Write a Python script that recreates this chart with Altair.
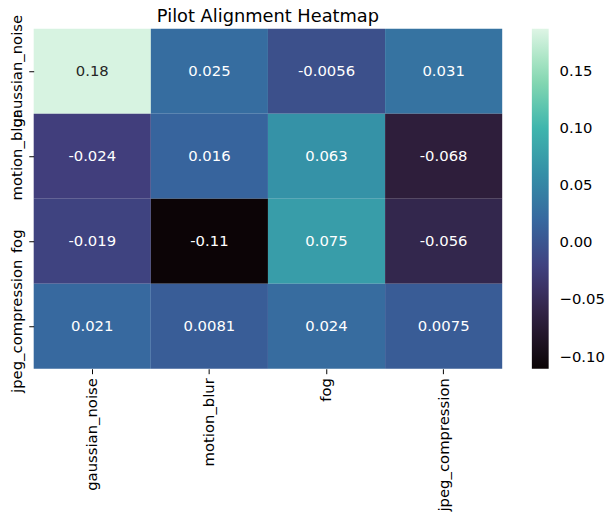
import altair as alt
import pandas as pd

categories = ["gaussian_noise", "motion_blur", "fog", "jpeg_compression"]
row_gaussian_noise = [0.184, 0.025, -0.0056, 0.031]
row_motion_blur = [-0.024, 0.016, 0.063, -0.068]
row_fog = [-0.019, -0.11, 0.075, -0.056]
row_jpeg_compression = [0.021, 0.0081, 0.024, 0.0075]
colorbar_range = [-0.1107, 0.1875]
colorbar_ticks = [-0.10, -0.05, 0.0, 0.05, 0.10, 0.15]
mako = ["#0B0405", "#2E1E3B", "#413D7B", "#37659E", "#348FA7", "#40B7AD", "#8BDAB2", "#DEF5E5"]

rows = [row_gaussian_noise, row_motion_blur, row_fog, row_jpeg_compression]
records = []
for rname, vals in zip(categories, rows):
    for cname, v in zip(categories, vals):
        records.append({"row": rname, "col": cname, "v": v, "label": f"{v:.2g}"})
df = pd.DataFrame(records)

FONT = "DejaVu Sans"

x = alt.X("col:N", sort=categories, title=None,
          scale=alt.Scale(paddingInner=0, paddingOuter=0),
          axis=alt.Axis(labelAngle=270, labelFontSize=15, labelFont=FONT, labelColor="black",
                        tickColor="black", tickSize=5, labelPadding=4, domain=False,
                        labelOverlap=False, labelLimit=0))
y = alt.Y("row:N", sort=categories, title=None,
          scale=alt.Scale(paddingInner=0, paddingOuter=0),
          axis=alt.Axis(labelAngle=270, labelAlign="center", labelBaseline="bottom",
                        labelFontSize=15, labelFont=FONT, labelColor="black",
                        tickColor="black", tickSize=5, labelPadding=4, domain=False,
                        labelOverlap=False, labelLimit=0))

rect = alt.Chart(df).mark_rect(strokeWidth=0).encode(
    x=x, y=y,
    color=alt.Color("v:Q",
                    scale=alt.Scale(domain=colorbar_range, range=mako, interpolate="rgb"),
                    legend=alt.Legend(orient="none", legendX=504, legendY=0, title=None,
                                      gradientLength=344, gradientThickness=17,
                                      direction="vertical", values=colorbar_ticks, format=".2f",
                                      labelFontSize=15, labelFont=FONT, labelColor="black",
                                      labelOffset=11, labelOverlap=False, gradientStrokeWidth=0,
                                      padding=0)),
)

text = alt.Chart(df).mark_text(fontSize=15, font=FONT).encode(
    x=alt.X("col:N", sort=categories),
    y=alt.Y("row:N", sort=categories),
    text="label:N",
    color=alt.condition(alt.datum.v > 0.12, alt.value("#262626"), alt.value("white")),
)

chart = (rect + text).properties(
    width=474, height=344,
    title=alt.TitleParams("Pilot Alignment Heatmap", fontSize=18, font=FONT, fontWeight="normal",
                          color="black", anchor="middle", offset=6, frame="group", dy=18),
    autosize=alt.AutoSizeParams(type="none"),
    padding={"left": 26, "top": 18, "right": 104, "bottom": 148},
).configure_view(stroke=None)

chart.save("out.html", embed_options={"renderer": "svg", "actions": False})
